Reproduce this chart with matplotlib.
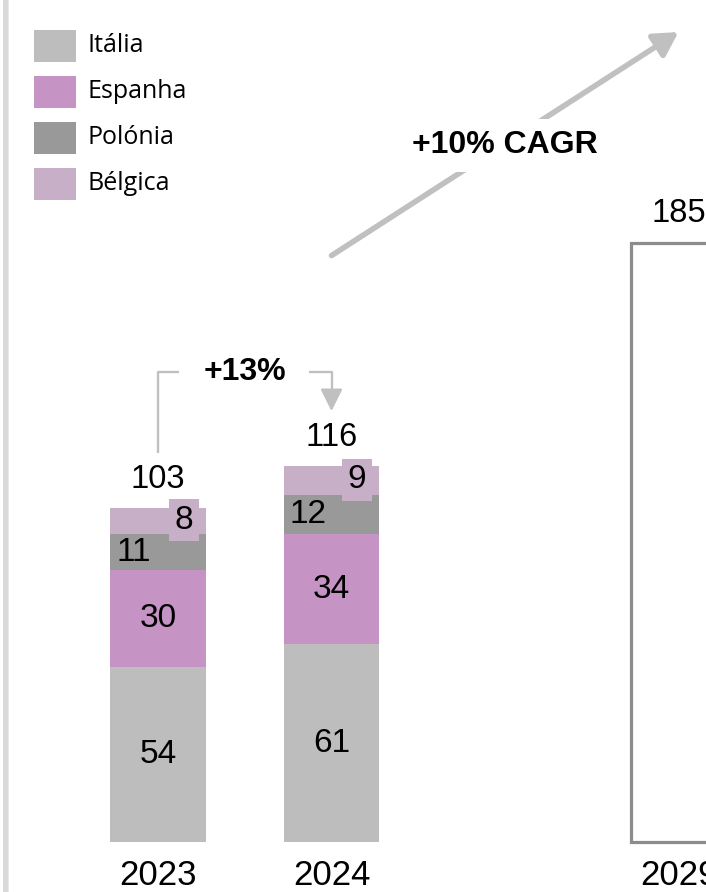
import matplotlib
matplotlib.use("Agg")
import matplotlib.pyplot as plt
from matplotlib.patches import Rectangle
import numpy as np

# ---- data ----
years = ["2023", "2024", "2029"]
countries = ["Itália", "Espanha", "Polónia", "Bélgica"]
italia = [54, 61]
espanha = [30, 34]
polonia = [11, 12]
belgica = [8, 9]
totals = [103, 116, 185]
growth_label = "+13%"
cagr_label = "+10% CAGR"

colors = ["#BDBDBD", "#C593C4", "#999999", "#C8AFC8"]
outline_color = "#8C8C8C"
arrow_color = "#C0C0C0"

num_font = "Liberation Sans"
leg_font = "Open Sans"

W, H = 706, 892
fig = plt.figure(figsize=(W / 100, H / 100), dpi=100)
ax = fig.add_axes([0, 0, 1, 1])
ax.set_xlim(-0.9107, 3.1585)
ax.set_ylim(-15.43, 259.88)
ax.axis("off")

xpos = [0, 1, 3]
bw = 0.553

# stacked bars for actual years
segments = [italia, espanha, polonia, belgica]
bottom = np.zeros(2)
for i, (vals, col) in enumerate(zip(segments, colors)):
    vals = np.array(vals, dtype=float)
    ax.bar(xpos[:2], vals, bw, bottom=bottom, color=col, edgecolor="none", zorder=2)
    for j in range(2):
        yc = bottom[j] + vals[j] / 2
        if i in (0, 1):
            ax.text(xpos[j], yc, f"{vals[j]:.0f}", ha="center", va="center",
                    fontsize=24, family=num_font, zorder=4)
        elif i == 2:
            ax.text(xpos[j] - bw / 2 + 0.035, yc, f"{vals[j]:.0f}", ha="left", va="center",
                    fontsize=24, family=num_font, zorder=4)
        else:
            ax.text(xpos[j] + bw / 2 - 0.075, yc + 0.3, f"{vals[j]:.0f}", ha="right", va="center",
                    fontsize=24, family=num_font, zorder=5,
                    bbox=dict(boxstyle="square,pad=0.17", fc=col, ec="none"))
    bottom += vals

# forecast outline bar
ax.bar(xpos[2], totals[2], bw, facecolor="white", edgecolor=outline_color,
       linewidth=2.3, zorder=2)

# totals
for x, t in zip(xpos, totals):
    ax.text(x, t + 9, f"{t}", ha="center", va="center", fontsize=23.5, family=num_font, zorder=4)

# year labels
for x, y in zip(xpos, years):
    ax.text(x, -10.4, y, ha="center", va="center", fontsize=25, family=num_font)

# +13% bracket
ytop = max(totals[:2]) + 29
ax.plot([xpos[0], xpos[0], xpos[0] + 0.12], [totals[0] + 17, ytop, ytop],
        color=arrow_color, lw=1.7, solid_capstyle="butt", zorder=1)
ax.plot([xpos[1] - 0.13, xpos[1], xpos[1]], [ytop, ytop, totals[1] + 22],
        color=arrow_color, lw=1.7, solid_capstyle="butt", zorder=1)
ax.annotate("", xy=(xpos[1], totals[1] + 17), xytext=(xpos[1], totals[1] + 23),
            arrowprops=dict(arrowstyle="-|>,head_length=0.9,head_width=0.45",
                            color=arrow_color, lw=1.7, mutation_scale=15,
                            shrinkA=0, shrinkB=0))
ax.text((xpos[0] + xpos[1]) / 2, ytop, growth_label, ha="center", va="center",
        fontsize=23, fontweight="bold", family=num_font)

# CAGR arrow
p0 = (xpos[1], totals[1] + 65)
p1 = (xpos[2], totals[2] + 65)
ax.annotate("", xy=p1, xytext=p0,
            arrowprops=dict(arrowstyle="-|>,head_length=0.8,head_width=0.45",
                            color=arrow_color, lw=4, mutation_scale=18,
                            shrinkA=0, shrinkB=0), zorder=1)
ax.text((p0[0] + p1[0]) / 2, (p0[1] + p1[1]) / 2 - 0.5, cagr_label, ha="center", va="center",
        fontsize=23, fontweight="bold", family=num_font, zorder=3,
        bbox=dict(boxstyle="square,pad=0.35", fc="white", ec="none"))

# legend (figure pixel coords -> fractions)
for k, (name, col) in enumerate(zip(countries, colors)):
    yc = 46 + 46 * k
    fig.patches.append(Rectangle((34 / W, 1 - (yc + 15.5) / H), 42 / W, 31 / H,
                                 transform=fig.transFigure, fc=col, ec="none"))
    fig.text(88 / W, 1 - yc / H, name, ha="left", va="center", fontsize=18, family=leg_font)

# left grey edge
fig.patches.append(Rectangle((3 / W, 0), 5 / W, 1, transform=fig.transFigure,
                             fc="#D9D9D9", ec="none"))
fig.patches.append(Rectangle((8 / W, 0), 1 / W, 1, transform=fig.transFigure,
                             fc="#E8E8E8", ec="none"))

fig.savefig("out.png", dpi=100)
